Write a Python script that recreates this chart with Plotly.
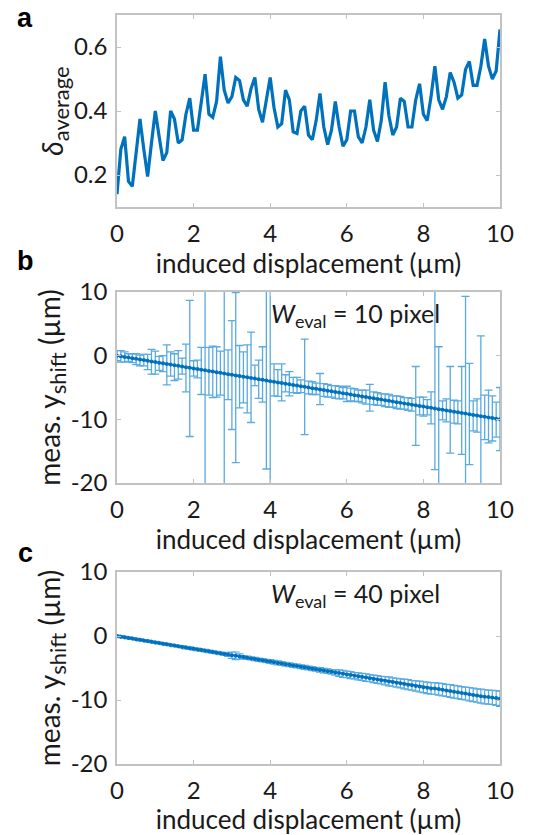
import plotly.graph_objects as go

# ---------------- data ----------------
x_um = [0.0, 0.1, 0.2, 0.3, 0.4, 0.5, 0.6, 0.7, 0.8, 0.9,
        1.0, 1.1, 1.2, 1.3, 1.4, 1.5, 1.6, 1.7, 1.8, 1.9,
        2.0, 2.1, 2.2, 2.3, 2.4, 2.5, 2.6, 2.7, 2.8, 2.9,
        3.0, 3.1, 3.2, 3.3, 3.4, 3.5, 3.6, 3.7, 3.8, 3.9,
        4.0, 4.1, 4.2, 4.3, 4.4, 4.5, 4.6, 4.7, 4.8, 4.9,
        5.0, 5.1, 5.2, 5.3, 5.4, 5.5, 5.6, 5.7, 5.8, 5.9,
        6.0, 6.1, 6.2, 6.3, 6.4, 6.5, 6.6, 6.7, 6.8, 6.9,
        7.0, 7.1, 7.2, 7.3, 7.4, 7.5, 7.6, 7.7, 7.8, 7.9,
        8.0, 8.1, 8.2, 8.3, 8.4, 8.5, 8.6, 8.7, 8.8, 8.9,
        9.0, 9.1, 9.2, 9.3, 9.4, 9.5, 9.6, 9.7, 9.8, 9.9, 10.0]

delta_average = [0.14, 0.28, 0.32, 0.18, 0.165, 0.27, 0.375, 0.28, 0.195, 0.30,
                 0.40, 0.32, 0.245, 0.27, 0.40, 0.375, 0.30, 0.31, 0.39, 0.44,
                 0.34, 0.34, 0.42, 0.515, 0.39, 0.38, 0.43, 0.57, 0.465, 0.425,
                 0.445, 0.505, 0.495, 0.435, 0.415, 0.47, 0.505, 0.405, 0.365, 0.435,
                 0.505, 0.41, 0.35, 0.36, 0.465, 0.435, 0.335, 0.33, 0.40, 0.415,
                 0.325, 0.31, 0.37, 0.455, 0.35, 0.295, 0.34, 0.43, 0.35, 0.29,
                 0.31, 0.40, 0.40, 0.32, 0.30, 0.35, 0.435, 0.34, 0.305, 0.37,
                 0.49, 0.385, 0.325, 0.35, 0.44, 0.43, 0.35, 0.35, 0.435, 0.485,
                 0.39, 0.37, 0.445, 0.54, 0.435, 0.405, 0.445, 0.52, 0.49, 0.44,
                 0.45, 0.53, 0.555, 0.48, 0.48, 0.54, 0.625, 0.54, 0.50, 0.525, 0.655]

yshift_w10 = [0.0, -0.1, -0.2, -0.3, -0.4, -0.5, -0.6, -0.7, -0.8, -0.9,
              -1.0, -1.1, -1.2, -1.3, -1.4, -1.5, -1.6, -1.7, -1.8, -1.9,
              -2.0, -2.1, -2.2, -2.3, -2.4, -2.5, -2.6, -2.7, -2.8, -2.9,
              -3.0, -3.1, -3.2, -3.3, -3.4, -3.5, -3.6, -3.7, -3.8, -3.9,
              -4.0, -4.1, -4.2, -4.3, -4.4, -4.5, -4.6, -4.7, -4.8, -4.9,
              -5.0, -5.1, -5.2, -5.3, -5.4, -5.5, -5.6, -5.7, -5.8, -5.9,
              -6.0, -6.1, -6.2, -6.3, -6.4, -6.5, -6.6, -6.7, -6.8, -6.9,
              -7.0, -7.1, -7.2, -7.3, -7.4, -7.5, -7.6, -7.7, -7.8, -7.9,
              -8.0, -8.1, -8.2, -8.3, -8.4, -8.5, -8.6, -8.7, -8.8, -8.9,
              -9.0, -9.1, -9.2, -9.3, -9.4, -9.5, -9.6, -9.7, -9.8, -9.9, -10.0]

err_plus_w10 = [0.8, 0.9, 0.8, 0.6, 0.7, 0.8, 0.7, 0.9, 1.0, 1.9,
                1.7, 1.0, 1.2, 3.0, 2.0, 1.8, 2.4, 1.3, 3.6, 10.6,
                1.2, 1.4, 3.5, 30.0, 3.7, 4.0, 4.0, 3.4, 30.0, 3.8,
                8.5, 13.0, 4.8, 3.9, 5.1, 7.2, 2.1, 3.0, 5.2, 14.0,
                30.0, 2.8, 2.0, 3.0, 1.4, 2.0, 1.2, 1.3, 1.0, 7.5,
                1.0, 1.0, 0.9, 2.5, 1.0, 1.0, 0.9, 1.0, 1.0, 0.9,
                1.2, 1.0, 1.0, 0.9, 1.0, 1.1, 2.1, 1.0, 1.0, 0.9,
                1.0, 1.0, 0.9, 1.0, 1.0, 0.9, 1.0, 1.0, 6.1, 1.4,
                1.5, 1.2, 2.5, 30.0, 9.8, 1.4, 1.8, 7.0, 1.8, 1.8,
                7.3, 18.4, 8.0, 2.2, 2.6, 12.6, 3.4, 4.3, 3.5, 2.6, 5.0]

err_minus_w10 = [0.8, 0.9, 0.8, 0.6, 0.7, 0.9, 1.0, 0.9, 1.4, 2.0,
                 1.9, 1.2, 1.3, 3.3, 1.8, 2.4, 2.1, 1.2, 3.9, 10.8,
                 1.2, 1.4, 3.9, 30.0, 3.8, 4.1, 3.9, 3.5, 30.0, 4.0,
                 8.6, 13.7, 5.0, 4.1, 5.6, 7.0, 1.1, 3.0, 3.5, 13.9,
                 30.0, 2.2, 2.2, 2.8, 1.3, 1.8, 1.2, 1.2, 1.0, 7.5,
                 1.0, 1.0, 0.9, 2.4, 1.0, 1.0, 0.9, 1.0, 1.0, 0.9,
                 1.2, 1.0, 1.0, 0.9, 1.0, 1.1, 2.1, 1.0, 1.0, 0.9,
                 1.0, 1.0, 0.9, 1.0, 1.0, 0.9, 1.0, 1.0, 6.3, 1.4,
                 1.5, 1.2, 2.5, 9.6, 30.0, 1.6, 1.8, 6.6, 1.8, 1.8,
                 6.5, 30.0, 7.9, 2.5, 2.6, 30.0, 3.6, 4.0, 3.6, 2.9, 4.9]

yshift_w40 = [0.0, -0.1, -0.2, -0.3, -0.4, -0.5, -0.6, -0.7, -0.8, -0.9,
              -1.0, -1.1, -1.2, -1.3, -1.4, -1.5, -1.6, -1.7, -1.8, -1.9,
              -2.0, -2.1, -2.2, -2.3, -2.4, -2.5, -2.6, -2.7, -2.8, -2.9,
              -3.0, -3.1, -3.2, -3.3, -3.4, -3.5, -3.6, -3.7, -3.8, -3.9,
              -4.0, -4.1, -4.2, -4.3, -4.4, -4.5, -4.6, -4.7, -4.8, -4.9,
              -5.0, -5.1, -5.2, -5.3, -5.4, -5.5, -5.6, -5.7, -5.8, -5.9,
              -6.0, -6.1, -6.2, -6.3, -6.4, -6.5, -6.6, -6.7, -6.8, -6.9,
              -7.0, -7.1, -7.2, -7.3, -7.4, -7.5, -7.6, -7.7, -7.8, -7.9,
              -8.0, -8.1, -8.2, -8.2, -8.3, -8.4, -8.5, -8.6, -8.7, -8.8,
              -8.9, -9.0, -9.1, -9.2, -9.3, -9.4, -9.5, -9.55, -9.6, -9.7, -9.8]

err_w40 = [0.15, 0.15, 0.15, 0.15, 0.15, 0.15, 0.15, 0.15, 0.15, 0.15,
           0.15, 0.15, 0.15, 0.15, 0.15, 0.15, 0.15, 0.15, 0.2, 0.2,
           0.2, 0.2, 0.2, 0.2, 0.2, 0.2, 0.2, 0.2, 0.25, 0.3,
           0.5, 0.6, 0.4, 0.25, 0.25, 0.25, 0.25, 0.25, 0.25, 0.25,
           0.3, 0.3, 0.3, 0.3, 0.3, 0.3, 0.3, 0.3, 0.3, 0.3,
           0.3, 0.3, 0.3, 0.35, 0.35, 0.35, 0.35, 0.4, 0.5, 0.55,
           0.5, 0.55, 0.5, 0.55, 0.55, 0.6, 0.55, 0.6, 0.6, 0.6,
           0.65, 0.7, 0.65, 0.7, 0.7, 0.75, 0.8, 0.75, 0.8, 0.85,
           0.85, 0.9, 0.9, 0.9, 0.95, 0.95, 0.95, 1.0, 1.0, 1.0,
           1.0, 1.0, 1.05, 1.05, 1.05, 1.1, 1.1, 1.1, 1.1, 1.15, 1.2]

x_ticks = [0, 2, 4, 6, 8, 10]
a_ticks = [0.2, 0.4, 0.6]
a_ticktext = ["0.2", "0.4", "0.6"]
bc_ticks = [-20, -10, 0, 10]
bc_ticktext = ["-20", "-10", "0", "10"]

# ---------------- style ----------------
W, H = 555, 835
LINE = "#0072BD"
ERR = "#5AAAE0"
FRAME = "#C2C2C2"
FONT = "Lato"
TXT = "#1a1a1a"

def py(p):  # pixel row -> paper y
    return 1 - p / H

xdom = [117 / W, 500 / W]
dom_a = [py(207), py(15)]
dom_b = [py(483), py(292)]
dom_c = [py(764), py(572)]

fig = go.Figure()

fig.add_trace(go.Scatter(x=x_um, y=delta_average, mode="lines",
                         line=dict(color=LINE, width=3.2), xaxis="x", yaxis="y",
                         showlegend=False))

fig.add_trace(go.Scatter(x=x_um, y=yshift_w10, mode="lines+markers",
                         line=dict(color=LINE, width=2),
                         marker=dict(color=LINE, size=4),
                         error_y=dict(type="data", array=err_plus_w10,
                                      arrayminus=err_minus_w10, symmetric=False,
                                      color=ERR, thickness=1.3, width=4),
                         xaxis="x2", yaxis="y2", showlegend=False))

fig.add_trace(go.Scatter(x=x_um, y=yshift_w40, mode="lines+markers",
                         line=dict(color=LINE, width=2),
                         marker=dict(color=LINE, size=4),
                         error_y=dict(type="data", array=err_w40,
                                      color=ERR, thickness=1.2, width=4),
                         xaxis="x3", yaxis="y3", showlegend=False))

axis_common = dict(showgrid=False, zeroline=False, showline=True, linecolor=FRAME,
                   linewidth=1.5, mirror="ticks", ticks="inside", ticklen=4,
                   tickcolor=FRAME, automargin=False,
                   tickfont=dict(family=FONT, size=24, color=TXT))

xt = "induced displacement (µm)"
for ax, anchor in (("xaxis", "y"), ("xaxis2", "y2"), ("xaxis3", "y3")):
    fig.layout[ax] = dict(axis_common, domain=xdom, anchor=anchor, range=[0, 10],
                          tickvals=x_ticks, ticklabelstandoff=4,
                          title=dict(text=xt, font=dict(family=FONT, size=26, color=TXT),
                                     standoff=2))

fig.layout["yaxis"] = dict(axis_common, domain=dom_a, anchor="x", range=[0.1, 0.7],
                           tickvals=a_ticks, ticktext=a_ticktext, ticklabelstandoff=3,
                           title=dict(text="<i>δ</i><sub><span style='font-size:22px'>average</span></sub>",
                                      font=dict(family=FONT, size=28, color=TXT),
                                      standoff=2))
for ax, dom, anc in (("yaxis2", dom_b, "x2"), ("yaxis3", dom_c, "x3")):
    fig.layout[ax] = dict(axis_common, domain=dom, anchor=anc, range=[-20, 10],
                          tickvals=bc_ticks, ticktext=bc_ticktext, ticklabelstandoff=3,
                          title=dict(text="meas. y<sub><span style='font-size:22px'>shift</span></sub> (µm)",
                                     font=dict(family=FONT, size=28, color=TXT),
                                     standoff=1))

letter_font = dict(family="Liberation Sans", size=27, color="#000")
annotations = [
    dict(text="<b>a</b>", x=25 / W, y=py(18), xref="paper", yref="paper",
         xanchor="center", yanchor="middle", showarrow=False, font=letter_font),
    dict(text="<b>b</b>", x=25 / W, y=py(261), xref="paper", yref="paper",
         xanchor="center", yanchor="middle", showarrow=False, font=letter_font),
    dict(text="<b>c</b>", x=25 / W, y=py(553), xref="paper", yref="paper",
         xanchor="center", yanchor="middle", showarrow=False, font=letter_font),
    dict(text="<i>W</i><sub><span style='font-size:18px'>eval</span></sub> = 10 pixel",
         x=355 / W, y=py(315), xref="paper", yref="paper",
         xanchor="center", yanchor="middle", showarrow=False,
         font=dict(family=FONT, size=25, color=TXT)),
    dict(text="<i>W</i><sub><span style='font-size:18px'>eval</span></sub> = 40 pixel",
         x=355 / W, y=py(595), xref="paper", yref="paper",
         xanchor="center", yanchor="middle", showarrow=False,
         font=dict(family=FONT, size=25, color=TXT)),
]

fig.update_layout(template="none", width=W, height=H,
                  margin=dict(l=0, r=0, t=0, b=0),
                  paper_bgcolor="white", plot_bgcolor="white",
                  annotations=annotations, showlegend=False)

fig.write_html("out.html")
